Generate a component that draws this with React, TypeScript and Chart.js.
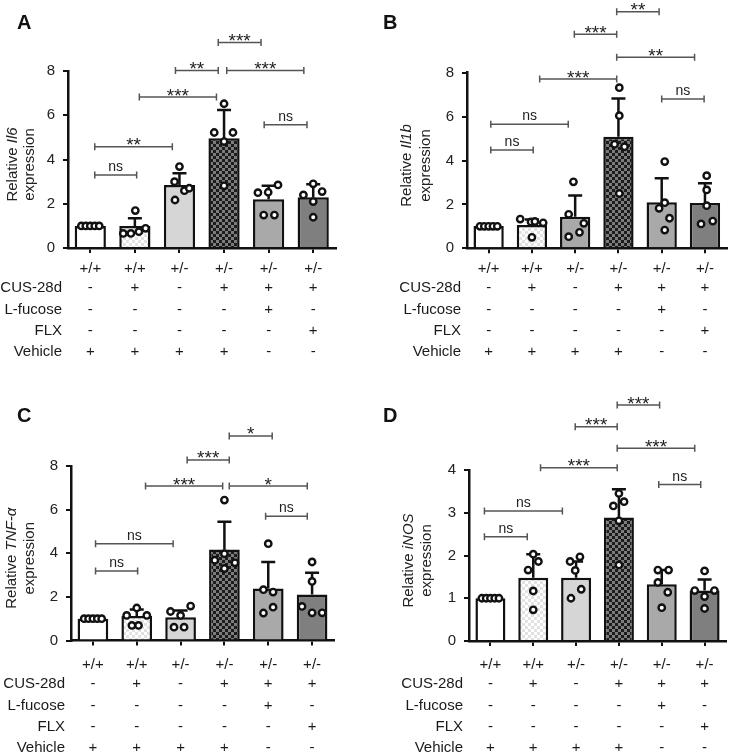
import React, { useEffect, useRef } from 'react';
import { Chart, registerables } from 'chart.js';

Chart.register(...registerables);

const FONT = '"Liberation Sans", Arial, Helvetica, sans-serif';

// ---- table rows (x-axis annotation) ----
const ROW_LABELS = ['', 'CUS-28d', 'L-fucose', 'FLX', 'Vehicle'];
const GENOTYPE = ['+/+', '+/+', '+/-', '+/-', '+/-', '+/-'];
const CUS = ['-', '+', '-', '+', '+', '+'];
const LFUCOSE = ['-', '-', '-', '-', '+', '-'];
const FLX = ['-', '-', '-', '-', '-', '+'];
const VEHICLE = ['+', '+', '+', '+', '-', '-'];
const CATEGORIES = ['WT', 'WT CUS', 'Het', 'Het CUS', 'Het CUS L-fucose', 'Het CUS FLX'];

// ---- A: Il6 ----
const A_MEANS = [1.0, 1.0, 2.85, 4.96, 2.2, 2.29];
const A_SD = [0, 0.34, 0.53, 1.28, 0.61, 0.59];
const A_POINTS = [
  [1, 1, 1, 1, 1],
  [0.66, 0.66, 0.74, 0.89, 1.69],
  [3.68, 3.0, 2.17, 2.59, 2.7],
  [6.52, 5.22, 5.22, 4.81, 2.81],
  [2.5, 2.52, 2.85, 1.49, 1.49],
  [2.9, 2.4, 2.55, 2.1, 1.39],
];
const A_JITTER = [
  [-0.2, -0.1, 0, 0.1, 0.2],
  [-0.26, -0.09, 0.09, 0.24, 0.01],
  [0, -0.11, -0.1, 0.11, 0.22],
  [0, -0.22, 0.2, 0, 0],
  [-0.24, -0.01, 0.21, -0.11, 0.13],
  [0, -0.22, 0.2, 0, 0],
];
const A_BRACKETS: [number, number, number, string][] = [
  [0.1, 1.04, 3.3, 'ns'],
  [0.1, 1.84, 4.58, '**'],
  [1.1, 2.83, 6.82, '***'],
  [1.91, 2.87, 8.02, '**'],
  [2.87, 3.83, 9.29, '***'],
  [3.06, 4.79, 8.02, '***'],
  [3.9, 4.86, 5.57, 'ns'],
];

// ---- B: Il1b ----
const B_MEANS = [1.02, 1.06, 1.44, 5.08, 2.1, 2.06];
const B_SD = [0, 0.25, 0.96, 1.75, 1.09, 0.9];
const B_POINTS = [
  [1, 1, 1, 1, 1],
  [1.33, 1.2, 1.22, 1.16, 0.5],
  [3.03, 1.55, 1.14, 0.73, 0.53],
  [7.32, 6.04, 4.74, 4.63, 2.5],
  [3.95, 1.82, 2.08, 1.37, 0.83],
  [3.31, 2.66, 1.94, 1.11, 1.24],
];
const B_JITTER = [
  [-0.2, -0.1, 0, 0.1, 0.2],
  [-0.27, -0.02, 0.07, 0.26, 0],
  [-0.04, -0.15, 0.2, 0.1, -0.15],
  [0.02, 0.02, -0.09, 0.14, 0.02],
  [0.07, -0.06, 0.07, 0.18, 0.07],
  [0.04, 0.04, 0.04, -0.09, 0.18],
];
const B_BRACKETS: [number, number, number, string][] = [
  [0.05, 1.03, 4.48, 'ns'],
  [0.05, 1.84, 5.65, 'ns'],
  [1.18, 2.96, 7.71, '***'],
  [1.98, 2.96, 9.75, '***'],
  [2.96, 3.94, 10.78, '**'],
  [2.96, 4.76, 8.7, '**'],
  [4.0, 4.98, 6.8, 'ns'],
];

// ---- C: TNF-α ----
const C_MEANS = [1.0, 1.12, 1.07, 4.17, 2.38, 2.11];
const C_SD = [0, 0.3, 0.31, 1.27, 1.22, 1.0];
const C_POINTS = [
  [1, 1, 1, 1, 1],
  [1.49, 1.15, 1.15, 0.69, 0.69],
  [1.58, 1.33, 1.15, 0.61, 0.61],
  [6.44, 3.98, 3.68, 3.56, 3.3],
  [4.44, 2.33, 2.22, 1.53, 1.26],
  [3.6, 2.71, 1.56, 1.27, 1.27],
];
const C_JITTER = [
  [-0.2, -0.1, 0, 0.1, 0.2],
  [0, -0.23, 0.23, -0.11, 0.04],
  [0.23, -0.23, 0, -0.15, 0.08],
  [0, 0, -0.22, 0.24, 0],
  [0, -0.11, 0.11, 0.11, -0.11],
  [0, 0, -0.23, 0, 0.23],
];
const C_BRACKETS: [number, number, number, string][] = [
  [0.06, 1.02, 3.19, 'ns'],
  [0.06, 1.83, 4.44, 'ns'],
  [1.2, 2.96, 7.08, '***'],
  [2.15, 3.11, 8.28, '***'],
  [3.11, 4.09, 9.38, '*'],
  [3.11, 4.89, 7.08, '*'],
  [3.94, 4.89, 5.7, 'ns'],
];

// ---- D: iNOS ----
const D_MEANS = [1.0, 1.48, 1.48, 2.89, 1.33, 1.18];
const D_SD = [0, 0.55, 0.38, 0.66, 0.33, 0.26];
const D_POINTS = [
  [1, 1, 1, 1, 1],
  [2.03, 1.86, 1.66, 1.17, 0.73],
  [1.97, 1.86, 1.65, 1.21, 1.0],
  [3.45, 3.16, 3.26, 2.81, 1.78],
  [1.66, 1.66, 1.37, 1.14, 0.78],
  [1.64, 1.18, 1.18, 1.04, 0.76],
];
const D_JITTER = [
  [-0.2, -0.1, 0, 0.1, 0.2],
  [0, 0.12, -0.12, 0, 0],
  [0.09, -0.14, -0.02, 0.12, -0.12],
  [0, -0.13, 0.12, 0, 0],
  [-0.09, 0.16, -0.09, 0.14, 0],
  [0, -0.23, 0.23, 0, 0],
];
const D_BRACKETS: [number, number, number, string][] = [
  [-0.14, 0.86, 2.44, 'ns'],
  [-0.14, 1.68, 3.04, 'ns'],
  [1.17, 2.96, 4.05, '***'],
  [1.98, 2.96, 5.01, '***'],
  [2.96, 3.95, 5.52, '***'],
  [2.96, 4.77, 4.51, '***'],
  [3.93, 4.91, 3.66, 'ns'],
];

const FILLS_STD = ['#ffffff', 'lightCheck', '#d6d6d6', 'darkCheck', '#a9a9a9', '#7f7f7f'];
const FILLS_B = ['#ffffff', 'lightCheck', '#a9a9a9', 'darkCheck', '#a9a9a9', '#7f7f7f'];

type Panel = {
  letter: string;
  gene: string;
  means: number[];
  sd: number[];
  points: number[][];
  jitter: number[][];
  brackets: [number, number, number, string][];
  yMax: number;
  step: number;
  fills: string[];
  x: number;
  y: number;
  w: number;
  h: number;
  area: { left: number; right: number; top: number; bottom: number };
  titleX: [number, number];
  tableShift: number;
  letterY: number;
};

const PANELS: Panel[] = [
  {
    letter: 'A', gene: 'Il6', means: A_MEANS, sd: A_SD, points: A_POINTS, jitter: A_JITTER, brackets: A_BRACKETS,
    yMax: 8, step: 2, fills: FILLS_STD, x: 0, y: 0, w: 366, h: 377,
    area: { left: 68, right: 335.5, top: 71, bottom: 248 }, titleX: [12.5, 30], tableShift: 0, letterY: 29,
  },
  {
    letter: 'B', gene: 'Il1b', means: B_MEANS, sd: B_SD, points: B_POINTS, jitter: B_JITTER, brackets: B_BRACKETS,
    yMax: 8, step: 2, fills: FILLS_B, x: 366, y: 0, w: 367, h: 377,
    area: { left: 101, right: 361, top: 72.7, bottom: 248.3 }, titleX: [41, 60], tableShift: 0, letterY: 29,
  },
  {
    letter: 'C', gene: 'TNF-α', means: C_MEANS, sd: C_SD, points: C_POINTS, jitter: C_JITTER, brackets: C_BRACKETS,
    yMax: 8, step: 2, fills: FILLS_STD, x: 0, y: 377, w: 366, h: 377,
    area: { left: 71, right: 334, top: 89, bottom: 263.5 }, titleX: [12, 30], tableShift: 3, letterY: 45,
  },
  {
    letter: 'D', gene: 'iNOS', means: D_MEANS, sd: D_SD, points: D_POINTS, jitter: D_JITTER, brackets: D_BRACKETS,
    yMax: 4, step: 1, fills: FILLS_STD, x: 366, y: 377, w: 367, h: 377,
    area: { left: 103, right: 360, top: 93, bottom: 264 }, titleX: [43, 61], tableShift: 3, letterY: 45,
  },
];

function makeChecker(c1: string, c2: string, size: number) {
  const cv = document.createElement('canvas');
  cv.width = size * 2;
  cv.height = size * 2;
  const g = cv.getContext('2d')!;
  g.fillStyle = c1;
  g.fillRect(0, 0, size * 2, size * 2);
  g.fillStyle = c2;
  g.fillRect(0, 0, size, size);
  g.fillRect(size, size, size, size);
  return g.createPattern(cv, 'repeat');
}

const Y_AXIS_W = 30;

function PanelChart({ p }: { p: Panel }) {
  const ref = useRef<HTMLCanvasElement | null>(null);
  useEffect(() => {
    const canvas = ref.current;
    if (!canvas) return;
    const light = makeChecker('#ffffff', '#e2e2e2', 3);
    const dark = makeChecker('#1c1c1c', '#7c7c7c', 3);
    const fills = p.fills.map((f) => (f === 'lightCheck' ? light : f === 'darkCheck' ? dark : f));
    const scatterData: { x: number; y: number }[] = [];
    p.points.forEach((arr, i) => arr.forEach((v, k) => scatterData.push({ x: i + p.jitter[i][k], y: v })));

    const rows = [GENOTYPE, CUS, LFUCOSE, FLX, VEHICLE];
    const rowOffsets = [21, 40, 62, 83, 104];

    const overlay = {
      id: 'overlay',
      afterDatasetDraw(chart: any, args: any) {
        if (args.index !== 0) return;
        const ctx = chart.ctx;
        const xs = chart.scales.x;
        const ys = chart.scales.y;
        ctx.save();
        ctx.strokeStyle = '#111';
        ctx.lineWidth = 2.5;
        p.means.forEach((m, i) => {
          if (!p.sd[i]) return;
          const x = xs.getPixelForValue(i);
          const y0 = ys.getPixelForValue(m);
          const y1 = ys.getPixelForValue(m + p.sd[i]);
          ctx.beginPath();
          ctx.moveTo(x, y0);
          ctx.lineTo(x, y1);
          ctx.moveTo(x - 7, y1);
          ctx.lineTo(x + 7, y1);
          ctx.stroke();
        });
        ctx.restore();
      },
      afterDraw(chart: any) {
        const ctx = chart.ctx;
        const xs = chart.scales.x;
        const ys = chart.scales.y;
        const ca = chart.chartArea;
        ctx.save();
        // significance brackets
        p.brackets.forEach(([a, b, v, label]) => {
          const x0 = xs.getPixelForValue(a);
          const x1 = xs.getPixelForValue(b);
          const y = ys.getPixelForValue(v);
          ctx.strokeStyle = '#555';
          ctx.lineWidth = 1.5;
          ctx.beginPath();
          ctx.moveTo(x0, y);
          ctx.lineTo(x1, y);
          ctx.moveTo(x0, y - 3.5);
          ctx.lineTo(x0, y + 3.5);
          ctx.moveTo(x1, y - 3.5);
          ctx.lineTo(x1, y + 3.5);
          ctx.stroke();
          ctx.fillStyle = '#222';
          ctx.textAlign = 'center';
          ctx.textBaseline = 'alphabetic';
          if (label === 'ns') {
            ctx.font = `14px ${FONT}`;
            ctx.fillText(label, (x0 + x1) / 2, y - 4);
          } else {
            ctx.font = `19px ${FONT}`;
            ctx.fillText(label, (x0 + x1) / 2, y + 4.5);
          }
        });
        // table
        ctx.fillStyle = '#1a1a1a';
        ctx.font = `15px ${FONT}`;
        ctx.textBaseline = 'middle';
        rows.forEach((row, r) => {
          const y = ca.bottom + rowOffsets[r] + p.tableShift;
          if (ROW_LABELS[r]) {
            ctx.textAlign = 'right';
            ctx.fillText(ROW_LABELS[r], ca.left - 6, y);
          }
          ctx.textAlign = 'center';
          row.forEach((s, i) => ctx.fillText(s, xs.getPixelForValue(i), y));
        });
        // y title
        const cy = (ca.top + ca.bottom) / 2 + 5;
        ctx.fillStyle = '#222';
        ctx.textBaseline = 'middle';
        const drawRot = (cx: number, parts: [string, boolean][]) => {
          ctx.save();
          ctx.translate(cx, cy);
          ctx.rotate(-Math.PI / 2);
          const widths = parts.map(([t, it]) => {
            ctx.font = `${it ? 'italic ' : ''}15px ${FONT}`;
            return ctx.measureText(t).width;
          });
          const total = widths.reduce((s, w) => s + w, 0);
          let x = -total / 2;
          ctx.textAlign = 'left';
          parts.forEach(([t, it], k) => {
            ctx.font = `${it ? 'italic ' : ''}15px ${FONT}`;
            ctx.fillText(t, x, 0);
            x += widths[k];
          });
          ctx.restore();
        };
        drawRot(p.titleX[0], [['Relative ', false], [p.gene, true]]);
        drawRot(p.titleX[1], [['expression', false]]);
        // panel letter
        ctx.font = `bold 20px ${FONT}`;
        ctx.fillStyle = '#111';
        ctx.textAlign = 'left';
        ctx.textBaseline = 'alphabetic';
        ctx.fillText(p.letter, 17, p.letterY);
        ctx.restore();
      },
    };

    const chart = new Chart(canvas, {
      type: 'bar',
      data: {
        labels: CATEGORIES,
        datasets: [
          {
            type: 'bar',
            data: p.means,
            backgroundColor: fills as any,
            borderColor: '#111',
            borderWidth: 2.5,
            barPercentage: 0.7,
            categoryPercentage: 1,
            grouped: false,
            order: 2,
          } as any,
          {
            type: 'scatter',
            data: scatterData,
            parsing: false,
            pointRadius: 3.2,
            pointBorderWidth: 2.4,
            pointBackgroundColor: '#ffffff',
            pointBorderColor: '#111',
            order: 1,
            clip: false,
          } as any,
        ],
      },
      options: {
        responsive: false,
        animation: false,
        events: [],
        layout: {
          padding: {
            left: p.area.left - Y_AXIS_W,
            right: p.w - p.area.right,
            top: p.area.top,
            bottom: 0,
          },
        },
        plugins: { legend: { display: false }, tooltip: { enabled: false } },
        scales: {
          x: {
            type: 'category',
            offset: true,
            grid: { display: true, drawOnChartArea: false, drawTicks: true, tickLength: 5, offset: false, color: '#111', lineWidth: 2 },
            border: { display: true, color: '#111', width: 2.5 },
            ticks: { display: false },
            afterFit: (s: any) => {
              s.height = p.h - p.area.bottom;
            },
          },
          y: {
            type: 'linear',
            min: 0,
            max: p.yMax,
            ticks: { stepSize: p.step, padding: 8, color: '#222', font: { size: 15, family: FONT } },
            grid: { drawOnChartArea: false, drawTicks: true, tickLength: 5, color: '#111', lineWidth: 2 },
            border: { display: true, color: '#111', width: 2.5 },
            afterFit: (s: any) => {
              s.width = Y_AXIS_W;
            },
          },
        } as any,
      },
      plugins: [overlay as any],
    });
    return () => chart.destroy();
  }, [p]);

  return (
    <div style={{ position: 'absolute', left: p.x, top: p.y, width: p.w, height: p.h }}>
      <canvas ref={ref} width={p.w} height={p.h} style={{ display: 'block' }} />
    </div>
  );
}

export default function App() {
  Chart.defaults.font.family = FONT;
  return (
    <div style={{ position: 'absolute', left: 0, top: 0, width: 733, height: 754, background: '#fff' }}>
      {PANELS.map((p) => (
        <PanelChart key={p.letter} p={p} />
      ))}
    </div>
  );
}
